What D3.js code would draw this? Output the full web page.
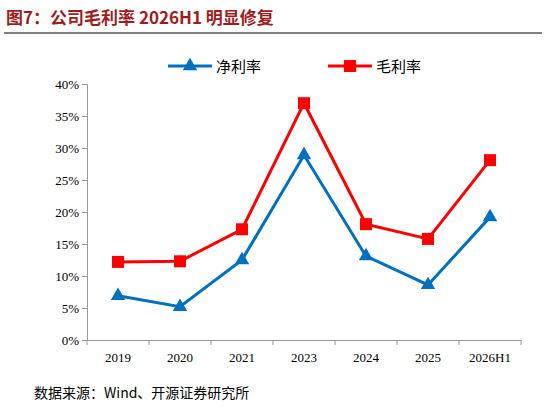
<!DOCTYPE html>
<meta charset="utf-8">
<head>
<style>
  body { margin: 0; background: #fff; }
  text { font-family: "Noto Sans CJK SC", "Liberation Serif", serif; }
  .tick text { font-family: "Liberation Serif", serif; }
</style>
</head>
<body>
<svg width="546" height="408"></svg>
<script src="https://d3js.org/d3.v7.min.js"></script>
<script>
var years = ["2019", "2020", "2021", "2023", "2024", "2025", "2026H1"];
var netMargin = [6.9, 5.2, 12.5, 28.9, 13.1, 8.6, 19.2];
var grossMargin = [12.2, 12.3, 17.3, 37.0, 18.1, 15.8, 28.1];
var yTicks = [0, 5, 10, 15, 20, 25, 30, 35, 40];

var svg = d3.select("svg");

svg.append("text").attr("x", 6).attr("y", 24)
  .attr("fill", "#a01c1c").attr("font-size", 17).attr("font-weight", "bold")
  .text("图7：公司毛利率 2026H1 明显修复");
svg.append("line").attr("x1", 4).attr("x2", 542).attr("y1", 33).attr("y2", 33)
  .attr("stroke", "#000").attr("stroke-width", 1);

var x = d3.scaleBand().domain(years).range([87, 521]);
var y = d3.scaleLinear().domain([0, 40]).range([340, 84]);

var xa = svg.append("g").attr("transform", "translate(0,340)")
  .call(d3.axisBottom(x).tickSize(5).tickSizeOuter(0));
xa.selectAll("text").attr("font-size", 13).attr("fill", "#000").attr("dy", "1.1em");
xa.select(".domain").attr("stroke", "#999");
xa.selectAll(".tick line").attr("stroke", "#999")
  .attr("transform", "translate(" + (-x.bandwidth() / 2) + ",0)");
svg.append("line").attr("x1", 521).attr("x2", 521).attr("y1", 340).attr("y2", 345).attr("stroke", "#999");

var ya = svg.append("g").attr("transform", "translate(87,0)")
  .call(d3.axisLeft(y).tickValues(yTicks).tickFormat(function(d) { return d + "%"; }).tickSize(5));
ya.selectAll("text").attr("font-size", 13).attr("fill", "#000");
ya.select(".domain").attr("stroke", "#999");
ya.selectAll(".tick line").attr("stroke", "#999");

function cx(i) { return x(years[i]) + x.bandwidth() / 2; }
var line = d3.line().x(function(d, i) { return cx(i); }).y(function(d) { return y(d); });

svg.append("path").datum(netMargin).attr("d", line).attr("fill", "none")
  .attr("stroke", "#0070c0").attr("stroke-width", 3);
svg.append("path").datum(grossMargin).attr("d", line).attr("fill", "none")
  .attr("stroke", "#ff0000").attr("stroke-width", 3);

var tri = d3.symbol().type(d3.symbolTriangle).size(90);
svg.selectAll(".tri").data(netMargin).enter().append("path")
  .attr("d", tri).attr("fill", "#0070c0")
  .attr("transform", function(d, i) { return "translate(" + cx(i) + "," + y(d) + ")"; });
svg.selectAll(".sq").data(grossMargin).enter().append("rect")
  .attr("x", function(d, i) { return cx(i) - 6; }).attr("y", function(d) { return y(d) - 6; })
  .attr("width", 12).attr("height", 12).attr("fill", "#ff0000");

// legend
svg.append("line").attr("x1", 168).attr("x2", 212).attr("y1", 66).attr("y2", 66).attr("stroke", "#0070c0").attr("stroke-width", 3);
svg.append("path").attr("d", tri).attr("fill", "#0070c0").attr("transform", "translate(190,66)");
svg.append("text").attr("x", 216).attr("y", 72).attr("font-size", 15).text("净利率");
svg.append("line").attr("x1", 328).attr("x2", 372).attr("y1", 66).attr("y2", 66).attr("stroke", "#ff0000").attr("stroke-width", 3);
svg.append("rect").attr("x", 344).attr("y", 60).attr("width", 12).attr("height", 12).attr("fill", "#ff0000");
svg.append("text").attr("x", 376).attr("y", 72).attr("font-size", 15).text("毛利率");

svg.append("text").attr("x", 34).attr("y", 398).attr("font-size", 14)
  .text("数据来源：Wind、开源证券研究所");
</script>
</body>
</html>
